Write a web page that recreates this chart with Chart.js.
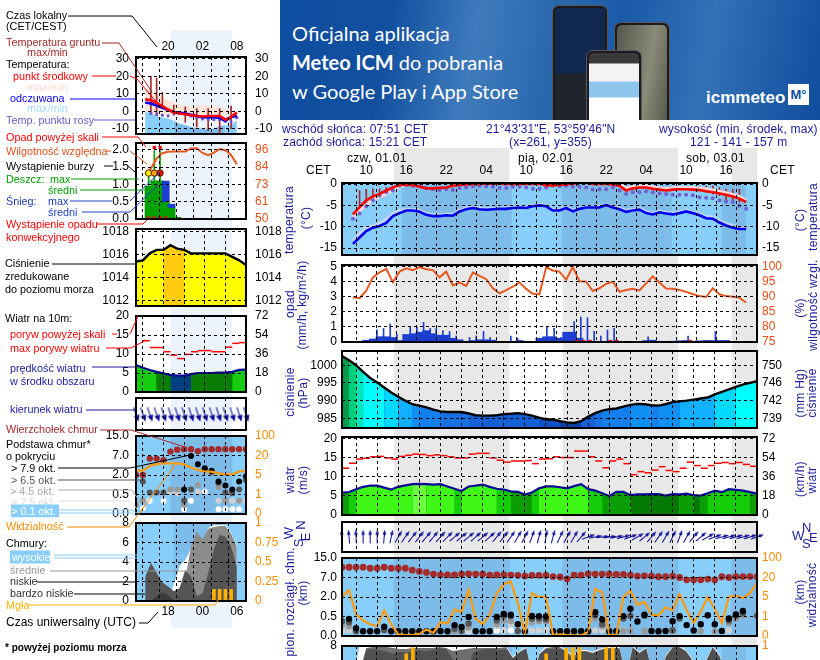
<!DOCTYPE html>
<html lang="pl">
<head>
<meta charset="utf-8">
<title>Meteogram</title>
<script src="https://cdn.jsdelivr.net/npm/chart.js@4.4.1/dist/chart.umd.min.js"></script>
<style>
  html, body { margin: 0; padding: 0; background: #fff; }
  body { position: relative; width: 820px; height: 660px; overflow: hidden; font-family: "Liberation Sans", Arial, sans-serif; }
  canvas { position: absolute; }
  .t { position: absolute; white-space: nowrap; font-size: 10.8px; line-height: 13px; transform: translateY(-50%); }
  .r { position: absolute; white-space: nowrap; font-size: 12px; line-height: 13px; transform: translate(-50%,-50%) rotate(-90deg); color: #1a1a9c; letter-spacing: .3px; }
  #banner { position: absolute; left: 280px; top: 0; width: 540px; height: 120px; overflow: hidden;
    background: linear-gradient(100deg,#0e4ea0 0%,#124f9f 20%,#3f7bbc 36%,#2a68ae 50%,#1a5aa8 62%,#3471b6 78%,#0f4d9e 100%); color: #fff; font-family: Lato, sans-serif; }
  #banner .line { position: absolute; left: 12px; font-size: 20px; line-height: 24px; white-space: nowrap; }
  .phone { position: absolute; background: #1c1c20; border: 1px solid #55585c; border-radius: 7px 7px 0 0; overflow: hidden; }
  .screen { position: absolute; left: 2px; right: 2px; top: 2px; bottom: 0; border-radius: 5px 5px 0 0; }
  #leaders { position: absolute; left: 0; top: 0; }
</style>
</head>
<body>
<div id="banner">
  <div class="line" style="top:21px">Oficjalna aplikacja</div>
  <div class="line" style="top:50px"><b>Meteo ICM</b> do pobrania</div>
  <div class="line" style="top:79px">w Google Play i App Store</div>
  <div class="phone" style="left:272px;top:5px;width:54px;height:120px"><div class="screen" style="background:linear-gradient(#10284e 55%,#20242c 56%)"></div></div>
  <div class="phone" style="left:334px;top:22px;width:54px;height:100px"><div class="screen" style="background:linear-gradient(100deg,#55584e,#8a8a78 60%,#55584e)"></div></div>
  <div class="phone" style="left:306px;top:50px;width:54px;height:72px"><div class="screen" style="background:linear-gradient(#3a3a3a 10px,#f4f4f4 11px,#f4f4f4 28px,#8ec6ee 29px,#8ec6ee 44px,#fff 45px)"></div></div>
  <div class="line" style="left:426px;top:86px;font-size:17px;font-weight:700;font-family:'Liberation Sans'">icmmeteo</div>
  <div class="line" style="left:508px;top:84px;width:21px;height:21px;line-height:21px;background:#fff;color:#0f4d9e;text-align:center;font-size:13px;font-weight:700;font-family:'Liberation Sans'">M°</div>
</div>
<script>
// ---- time axes
const mainHours = 59;
const leftHours = 16;
const mainGrid = [2,5,8,11,14,17,20,23,26,29,32,35,38,41,44,47,50,53,56];
const leftGrid = [1,4,7,10,13,16];
const mainTimeHours = [2,8,14,20,26,32,38,44,50,56];
const mainTimeLabels = ['10','16','22','04','10','16','22','04','10','16'];
const leftTopHours = [4,10,16];
const leftTopLabels = ['20','02','08'];
const leftUtcHours = [4,10,16];
const leftUtcLabels = ['18','00','06'];
const mainNights = [[7.35,23.85],[31.35,47.85],[55.35,59]];
const leftNights = [[5,14]];
const n = null;

// ---- main: temperature
const tempMid = [-7.1,-5.4,-3.8,-2.9,-2.3,-1.5,-0.8,-0.1,-0.2,-0.2,-0.6,-1,-1,-0.9,-0.8,-0.4,-0.2,-0.1,0,0,0.1,0.1,0.1,0,0,0,0,0,0.1,-0.3,-0.3,-0.2,-0.1,0.1,0.3,0.3,0,0,0,-0.1,-0.4,-1.5,-1,-0.8,-0.8,-1.1,-1.3,-1.5,-1.3,-1.2,-1.2,-1.3,-1.4,-1.7,-1.9,-2.2,-2.5,-2.9,-3.4,-4.2];
const tempPale = [-7.7,-6.2,-4.9,-3.7,-3,-2.3,-1.5,-0.6,-0.3,n,n,n,n,n,n,n,n,n,n,n,n,n,n,n,n,n,n,n,n,n,n,n,n,n,n,n,n,n,n,0,-0.1,-0.9,-0.6,-0.4,-0.4,-0.7,-0.9,-1,-0.9,-0.8,-0.8,-0.8,-0.9,-1.1,-1.4,-1.7,-2,-2.4,-2.9,-3.8];
const feels = [-14,-12.5,-11,-10.2,-9.8,-9.1,-7.5,-6.8,-6.2,-6.2,-6.5,-7.2,-7.5,-7.5,-7.3,-7.4,-6.4,-5.9,-5.6,-5.9,-6,-5.9,-5.8,-5.8,-5.6,-5.5,-5.6,-5.2,-5,-5.2,-6.2,-6.2,-5.6,-6.4,-5.8,-5.5,-5.5,-5.5,-4.9,-5.5,-5.9,-6.5,-6.2,-6,-6.8,-7.1,-6.6,-6.9,-7.1,-6.8,-6.4,-6.8,-7.3,-8,-8.1,-9,-9.7,-10.2,-10.5,-10.5];
const feelsPale = [-13.2,-11.6,-10.2,-9.7,-9.2,-8.2,-6.9,-6.2,-5.9,-5.9,-6.2,-6.9,-7.2,-7.2,-7,-7.1,-6.1,-5.6,-5.4,-5.6,-5.8,-5.7,-5.6,-5.6,-5.4,-5.3,-5.4,-5,-4.8,-5,-6,-6,-5.4,-6.1,-5.6,-5.3,-5.3,-5.3,-4.7,-5.3,-5.6,-6.2,-5.9,-5.7,-6.5,-6.8,-6.3,-6.6,-6.8,-6.5,-6.1,-6.5,-7,-7.6,-7.7,-8.6,-9.2,-9.7,-10.2,-10.3];
const dewPoint = [-8.1,-6.9,-5.2,-3.8,-2.7,-1.9,-1.5,-0.4,-0.2,-0.4,-0.5,-1,-1.2,-1.4,-1.2,-1.4,-0.9,-0.8,-0.5,-0.4,-0.5,-0.6,-0.9,-0.9,-0.6,-0.6,-0.8,-1.1,-1.1,-0.8,-0.4,-0.5,-0.4,-0.6,-0.6,-0.8,-1.3,-1.2,-1.2,-0.8,-1.5,-2.3,-1.9,-1.9,-1.7,-1.9,-2.2,-2.3,-2.5,-2.5,-2.5,-2.6,-3.1,-3.2,-3.3,-3.8,-4.1,-4.2,-5.1,-5.8];
const groundHours = [1,2,3,4,5,52,53,54,55,56,57,58];
const groundHigh = [-1.5,-1.2,-1.1,-1.1,-0.8,-0.6,-0.4,-0.4,-0.8,-1.2,-1.2,-1.2];
const groundLow = [-7,-5,-3.8,-2.7,-1.9,-1.6,-1.9,-2.3,-2.7,-3.8,-3.8,-4.2];
const tempTicks = [-15,-10,-5,0];

// ---- main: humidity and rain
const humidity = [89.8,89.5,92,96.4,98.1,99.2,94.8,98.3,99.4,98.8,99.8,99.1,98.8,96.4,98.3,93.7,94.7,93.6,98,96.9,95.8,92.8,91.1,92.2,93.3,94.7,92.6,91,90.8,99.8,98.7,98.3,95.6,99.9,95.1,95,91.9,92.8,94.2,95,91.6,92.2,92.6,92.1,94.4,96.7,94.7,92.7,92.6,92.2,91.6,90.9,90.2,89.9,92.8,90.8,90.2,90,89.7,88.1];
const rainMean = [0,0,0.12,0.2,0.35,0.35,0.3,0.1,0.5,0.55,0.65,0.75,0.55,0.45,0.45,0.25,0.15,0.05,0.1,0.15,0.15,0.12,0,0,0.03,0.1,0.03,0,0.25,0.35,0.35,0.25,0.65,0.65,0.25,0.03,0,0,0,0,0,0.02,0.02,0.02,0.1,0.12,0.05,0,0.05,0.08,0.1,0.05,0.08,0.1,0.1,0.1,0.1,0.02,0,0];
const rainMaxHours = [3.6,4.6,5.6,6.6,8.6,9.6,10.6,11.6,12.5,13.5,14.5,15.5,17.5,18.5,19.6,20.6,23.7,24.7,29.1,30.2,31.2,32.2,33.2,34.2,35.2,36.2,37.2,38.2,39.2,44.3,50.3,54.4];
const rainMax = [0.8,0.9,1.2,0.5,1,1,1.3,0.9,0.9,0.75,0.7,0.4,0.3,0.4,0.7,0.3,0.4,0.25,1,0.9,0.3,0.5,1.35,1.65,1.6,0.7,0.4,0.8,0.9,0.35,0.4,0.7];
const convectiveHours = [33.6,34.6,35.6,38.6,39.6,50.6];
const mmTicks = [0,1,2,3,4,5];
const humidityTicks = [75,80,85,90,95,100];

// ---- main: pressure
const pressure = [1002.6,1001.4,1000,998.1,996.4,995.1,993.7,992.3,991.1,990,989,988.6,988.1,987.5,987,986.8,986.8,986.8,986.4,985.9,985.8,985.8,985.9,986.2,986.3,986.5,986.2,985.8,985.2,984.7,984.7,984.2,983.9,983.7,984.2,985.5,986.5,987.2,987.6,987.8,988.3,988.8,989.1,989,988.7,988.6,989,989.6,989.8,990,990.3,990.6,990.9,991.8,992.5,993.2,993.9,994.5,995,995.5];
const pressureTicks = [985,990,995,1000];
const pressureHgLabels = ['739','742','746','750'];

// ---- main: wind
const windSpeed = [5.9,6.05,6.75,7.4,7.7,7.7,7.2,6.7,7.4,7.8,8.1,8.2,8.1,8,8.1,7.5,6.9,6.3,7.5,7.7,8,7.4,6.9,6.7,6.2,6.1,5.4,5.9,7,7.5,7.5,7.3,7,7.6,8.1,6.8,6.4,5.7,5,6.1,6.1,5.2,5.4,5.4,5.5,5.5,5.1,5.5,5.4,5.6,5.2,5.1,5.7,6.4,6,6.8,6.6,6.4,6,5.6];
const windGust = [12.3,13.6,14.7,14.9,15.3,15.4,15,14.7,15.4,15.7,16,15.9,15.6,15.8,15.6,15.3,15,15,16,16.2,16.2,15,14.4,13.9,14.2,14.2,14.3,13.5,14.7,14.8,15.3,15.1,15.1,16.8,16.8,15.3,14.2,12.4,14.2,14.7,13.5,10.6,11.4,11.1,11.8,12.7,11.7,11.4,12.3,13.9,13,12.3,13,13.6,13.8,13.5,13.8,13.3,12.8,n];
const windTicks = [0,5,10,15,20];
const windKmhLabels = ['0','18','36','54','72'];
const windDir = [-5,-5,-3,0,0,0,5,12,30,35,38,38,40,40,42,45,50,50,50,48,50,48,40,38,35,30,28,20,15,10,15,25,30,30,40,70,80,85,85,80,75,70,60,50,40,35,30,25,20,30,40,50,60,70,75,75,75,75,72,70];

// ---- main: clouds (heights in km)
const heightStops = [0,0.5,2,7,15];
const heightLabels = ['0.0','0.5','2.0','7.0','15.0'];
const visStops = [0,1,5,20,100];
const visLabels = ['0','1','5','20','100'];
const cloudTop = [11.2,11.2,11.2,11.2,10.8,10.8,11.2,10.8,10.8,10.8,10,9.5,9.1,8.4,8.1,8.1,8.1,8.4,8.5,8.4,8.4,8,8.1,8.1,8,7.9,7.6,7.9,7.9,7.9,7.4,7.2,6.65,8,8,8.5,8.4,8.4,8.4,8.3,8.3,8,7.6,7.7,7.6,7.3,7.3,7.6,7,6.4,6.4,6.4,6.6,6.4,7.3,7,7.4,7.4,7.4,7.3];
const visibility = [5,10.4,1.5,0.8,0.6,0.5,2.2,0.59,0.09,0.05,0.05,0.12,0.33,0.16,0.72,0.64,2.4,1.9,10.4,0.9,0.6,1.3,7.9,14.8,16.9,3.7,0.16,7.9,5,5.2,0.05,0.08,0.05,0.03,0.03,0.2,11,8.6,0.05,0.05,5,10,3.4,4,1.4,1.2,2.9,2.3,7.1,2.3,0.67,2,5.1,2.6,0.67,5,5.8,4.8,7.9,15.5];
const base79 = [n,0.44,0.2,0.12,0.12,0.12,0.24,0.12,0.12,0.12,0.12,0.12,0.12,0.12,0.13,0.12,0.28,0.23,0.49,0.12,0.12,0.12,0.49,0.7,0.63,0.3,0.12,0.54,0.53,0.5,0.12,0.12,0.12,0.12,0.12,0.12,0.83,0.42,0.12,0.12,0.53,1.1,0.37,0.63,0.13,0.12,0.13,0.38,0.53,0.28,0.14,0.3,0.6,0.3,0.13,0.45,0.65,0.92,n,n];
const base65 = [0.38,0.35,0.12,n,n,n,0.15,n,n,n,n,n,n,n,n,n,0.18,0.13,0.32,n,n,n,0.4,0.55,0.52,0.13,n,0.45,0.45,0.42,n,n,n,n,n,n,0.6,0.3,n,n,0.45,0.55,n,0.55,n,n,n,0.15,0.45,n,n,n,n,n,n,0.4,0.55,0.75,n,0.55];
const base45 = [0.28,0.25,n,n,n,n,n,n,n,n,n,n,n,n,n,n,0.13,n,0.22,n,n,n,0.3,0.4,0.38,n,n,0.35,0.38,0.38,n,n,n,n,n,n,0.45,0.25,n,n,0.13,0.13,n,0.12,n,n,n,0.13,n,n,n,0.12,n,0.12,n,0.33,0.45,0.6,n,n];
const base25 = [0.14,0.14,n,n,n,n,n,n,n,n,n,n,n,n,n,n,n,n,0.14,n,n,n,0.25,0.14,0.3,0.14,n,0.14,0.14,0.14,n,n,n,n,n,n,0.14,0.14,n,n,0.14,n,n,n,n,n,n,n,n,n,n,n,n,n,n,0.14,n,n,n,n];
const base01 = [n,n,n,n,n,n,n,n,n,n,n,n,n,n,n,n,n,n,0.13,n,n,n,0.14,0.14,0.14,n,n,n,n,n,n,n,n,n,n,n,n,n,n,n,n,n,n,n,n,n,n,n,n,n,n,n,n,n,n,n,n,n,n,n];

// ---- main: cloud cover, only the top of this panel fits the page
const coverTicks = [0,2,4,6,8];
const coverFracLabels = ['0','0.25','0.5','0.75','1'];
const coverLow = [4,5,7.6,7.7,7.6,7.4,7.2,7.4,7.3,7.5,7.6,7.5,7.6,7.8,7.7,6.6,5,4.8,7.3,7.6,7.7,7.7,7.6,7.7,6.7,7.3,7.7,4.6,7.1,7.7,7.7,7.7,7.4,6.5,7.4,7.4,7.2,7.5,7.7,7.7,7.7,4.8,7.8,7.2,7.7,5,4.8,6.9,7.8,7.8,7.4,6.4,4.8,6.4,7.8,6.9,4.8,4.5,4.5,4.5];
const coverMid = [4.2,5.3,7.8,7.9,7.9,7.9,7.8,7.7,7.7,7.8,7.8,7.8,7.8,7.9,7.8,7.5,7.6,7.7,7.8,7.8,7.8,7.8,7.8,7.9,6.8,7.4,7.8,4.7,7.2,7.8,7.9,7.9,7.5,6.9,7.5,7.5,7.3,7.6,7.8,7.8,7.8,4.9,7.9,7.3,7.8,5.1,4.9,7,7.9,7.9,7.5,6.5,4.9,6.5,7.9,7,4.9,4.6,4.6,4.6];
const coverHigh = [4.6,8,8,8,8,8,8,8,7.9,7.9,7.9,8,8,8,8,8,7.9,7.9,8,8,8,8,8,8,6.9,7.5,7.9,4.8,7.3,8,8,8,7.6,7,7.6,7.6,7.4,7.7,7.9,7.9,7.9,5,8,7.4,7.9,5.2,5,7.1,8,8,7.6,6.6,5,6.6,8,7.1,5,4.7,4.7,4.7];
const fogHours = [8,9,10,29,32,33,34,38,39];
const fogValues = [0.9,0.98,0.65,0.9,0.97,0.98,0.98,0.98,0.98];

// ---- left: temperature
const lTempMid = [6.9,6.3,4.8,2.9,1,-0.6,-1.3,-1.7,-2.3,-2.7,-3,-2.7,-2.7,-2.7,-4.8,-3.2,-0.8];
const lTempMax = [13.6,11.8,9.6,7.9,6.3,5,3.8,3.2,2.9,3.1,3.5,3.1,2.9,2.3,1.5,0.4,0.2];
const lFeels = [5,4.4,3.3,2,0.8,-0.4,-0.8,-1.3,-2,-2.7,-3.4,-3.4,-3.4,-3.8,-5.6,-3.3,-2.7];
const lFeelsMax = [-0.4,-1,-2.9,-3.5,-4.2,-5.4,-7.1,-8,-9,-9.6,-10,-10,-10,-8.5,-8,-8,-5.2];
const lDewPoint = [n,-1.3,-1.9,-2.3,-2.7,-1,-1.3,-1.7,-2.7,-3.8,-4.4,-4.6,-4.8,-4.8,-5.6,-6.2,-3.7];
const lGroundHours = [1,2,3,5,7,9,11,13,15];
const lGroundHigh = [20,19,10.8,3.5,2.5,1.5,1.5,1.5,2.9];
const lGroundLow = [-1.3,-1.3,2.9,-2.3,-6.3,-9,-11,-13,-10];
const lTempTicks = [-10,0,10,20,30];

// ---- left: humidity and precipitation
const lHumidity = [79.9,83.6,90.3,93.8,94.7,94.9,94.9,94.9,96.9,97.1,94,92.5,94.2,96.5,95.8,92.7,86.5];
const lRainHours = [0.6,1.6,2.6,3.6,4.6,5.6];
const lRainMean = [0.95,1.1,1.1,0.5,0.33,0.05];
const lSnowHours = [3.6,4.6];
const lSnowLow = [0.5,0.33];
const lSnowHigh = [1.1,0.43];
const lRainMaxHours = [0.6,1.6,2.6];
const lRainMaxLow = [0.95,1.1,1.1];
const lRainMaxHigh = [1.35,1.98,1.98];
const lOverScale = [2.07,2.07];
const lOverHours = [1.6,2.6];
const lThunderHours = [0.6,1.6,2.6];
const lThunderValues = [1.33,1.33,1.33];
const lConvectiveHours = [0.6,1.6,2.6,3.6];
const lMmTicks = [0,0.5,1,1.5,2];
const lMmLabels = ['0.0','0.5','1.0','1.5','2.0'];
const lHumTicks = [50,61.5,73,84.5,96];
const lHumLabels = ['50','61','73','84','96'];

// ---- left: pressure and wind
const lPressure = [1015.4,1015.5,1016.1,1016.4,1016.4,1016.8,1016.5,1016.4,1016.1,1016.1,1016.1,1016.1,1016.1,1016.1,1015.8,1015.5,1015.1];
const lPressureTicks = [1012,1014,1016,1018];
const lWind = [7.1,6.4,5.8,5.3,4.9,4.5,4.3,4.3,4.7,5,5,5,5.1,5.1,5.3,5.8,5.9];
const lGust = [n,13.5,11.7,11.7,10.6,9.7,8.8,9.9,10.6,10.9,10.9,10.6,10.6,11.8,12.8,13];
const lWindDir = [160,160,160,160,162,162,162,162,162,162,162,162,162,162,162,162,162];

// ---- left: clouds
const lCloudTop = [2,2,6.2,6.2,5.8,8.6,9.4,9.6,9.6,8.8,9.6,9.6,9.6,9.6,9.6,9.6,9.6];
const lBase79 = [n,n,n,n,n,n,n,0.89,6.9,4.75,3.75,3.1,1.5,1.2,0.88,1.5,1.9];
const lBase65 = [n,1.5,0.66,0.66,0.66,n,n,0.34,0.89,n,3.4,2.7,1.4,0.66,0.6,0.89,1.6];
const lBase45 = [0.24,0.34,n,n,n,0.89,0.89,0.23,n,1.23,n,n,1.05,0.34,0.72,0.34,n];
const lBase25 = [0.23,n,n,n,n,0.72,0.59,n,n,0.72,n,n,0.34,0.34,0.34,0.34,0.34];
const lBase01 = [n,0.15,0.34,n,0.34,n,n,0.12,0.34,n,0.72,n,0.12,0.12,0.12,0.12,n];
const lVisibility = [8.3,8.3,11.9,13.4,14,14,14,13.2,10.7,8.9,7.6,7.6,6.3,5.5,5.6,7.6,8.4];
const lCoverHigh = [0,0,0,0,0,1.7,3.6,4.2,5.4,5.9,6,7.5,7.8,7.8,7.8,7,5.7];
const lCoverMid = [0,0,0,0,0,0,0,2.2,5.6,7.1,6.3,7.4,7.6,7.7,7.7,6.9,5.6];
const lCoverLow = [2.5,3.9,2.9,1.9,1.5,1,1.3,3.2,2.5,0.5,0.8,2.9,5.3,6.8,6.6,5.6,3.5];
const lCoverVeryLow = [0,0,0.5,0.9,0.6,0,0,0,0,0,0,0,0,0,0,0,0];
const lFogHours = [12,13,14,15];
const lFogValues = [0.15,0.15,0.15,0.15];

// ---- text next to the panels: text, x, y, colour
const NAVY = '#1a1a9c';
const legendLabels = [
  ['Czas lokalny',6,15,'#000'],['(CET/CEST)',6,26,'#000'],['Temperatura gruntu',6,42,'#a52a2a'],['max/min',27,52,'#a52a2a'],
  ['Temperatura:',6,64,'#000'],['punkt środkowy',13,76,'#f00'],['max/min',27,87,'#fbdccf'],['odczuwana',10,98,'#00f'],
  ['max/min',27,108,'#a8daf8'],['Temp. punktu rosy',6,120,'#6a5acd'],['Opad powyżej skali',6,137,'#f00'],['Wilgotność względna',6,151,'#e0501a'],
  ['Wystąpienie burzy',6,166,'#000'],['Deszcz:',6,179,'#00a000'],['max',50,179,'#00a000'],['średni',48,190,'#00a000'],
  ['Śnieg:',6,201,'#2040c0'],['max',48,201,'#2040c0'],['średni',48,212,'#2040c0'],['Wystąpienie opadu',6,224,'#f00'],['konwekcyjnego',6,237,'#f00'],
  ['Ciśnienie',5,263,'#000'],['zredukowane',5,276,'#000'],['do poziomu morza',5,289,'#000'],['Wiatr na 10m:',5,318,'#000'],
  ['poryw powyżej skali',10,334,'#f00'],['max porywy wiatru',10,348,'#f00'],['prędkość wiatru',10,368,NAVY],['w środku obszaru',10,381,NAVY],
  ['kierunek wiatru',10,409,NAVY],['Wierzchołek chmur',6,429,'#a52a2a'],['Podstawa chmur*',6,444,'#000'],['o pokryciu',6,456,'#000'],
  ['> 7.9 okt.',11,468,'#000'],['> 6.5 okt.',11,480,'#555'],['> 4.5 okt.',10,491,'#aaa'],['> 2.5 okt.',11,502,'#ddd'],
  ['Widzialność',6,526,'#ff8c00'],['Chmury:',6,543,'#000'],['średnie',10,570,'#999'],['niskie',10,581,'#333'],['bardzo niskie',10,593,'#333'],
  ['Mgła',6,605,'#ffb000']
];
const headerLabels = [
  ['wschód słońca: 07:51 CET',282,129],['zachód słońca: 15:21 CET',283,142],['21°43\'31"E, 53°59\'46"N',486,129],['(x=261, y=355)',509,142],
  ['wysokość (min, środek, max)',659,129],['121 - 141 - 157 m',690,142]
];
const dayLabels = [['czw, 01.01',347,158],['pią, 02.01',518,158],['sob, 03.01',686,158],['CET',306,170],['CET',770,170]];
const sideLabels = [
  ['temperatura',289,220],['(°C)',306,218],['opad',290,304],['(mm/h, kg/m²/h)',302,305],['ciśnienie',290,392],['(hPa)',303,393],
  ['wiatr',290,480],['(m/s)',303,480],['e  pion. rozciągł. chm.',290,607],['(km)',303,593],
  ['temperatura',813,217],['(°C)',800,220],['wilgotność wzgl.',813,305],['(%)',800,308],['ciśnienie',812,393],['(mm Hg)',800,393],
  ['wiatr',812,480],['(km/h)',800,479],['widzialność',812,595],['(km)',800,592]
];
const compassLeft = [['W',288,533],['N',300,525],['E',305,537],['S',298,543]];
const compassRight = [['W',797,535],['N',807,527],['E',814,537],['S',807,543]];

// leader lines: colour, points
const leaders = [
  ['#000','68,16 132,16 157,47'],['#a52a2a','102,43 119,43 152,92'],['#f00','92,76 116,76'],['#f00','130,76 137,79 158,104'],
  ['#00f','70,99 135,99'],['#6a5acd','94,120 135,120'],['#f00','102,137 138,137 146,147'],['#e0501a','106,151 111,151'],['#e0501a','130,151 147,164'],
  ['#000','104,166 113,166'],['#000','128,166 135,172'],['#00a000','71,179 139,179'],['#00a000','80,190 146,190'],['#2040c0','70,201 112,201'],
  ['#2040c0','130,201 160,172'],['#2040c0','82,212 130,212 158,185'],['#f00','97,224 143,224 147,220'],['#000','52,264 135,264'],
  ['#f00','112,334 117,334'],['#f00','130,334 138,316'],['#f00','106,348 131,348 146,340'],[NAVY,'92,367 135,367'],[NAVY,'86,410 135,410'],
  ['#a52a2a','100,430 131,430 185,447'],['#000','58,468 130,468 190,455'],['#555','58,480 143,480'],['#aaa','58,490 132,490 140,502'],
  ['#ddd','58,501 130,501 138,510'],['#87cefa','58,510 132,510 137,513'],['#87cefa','58,513 132,513 136,516'],['#ff8c00','67,527 129,527 175,465'],
  ['#87cefa','54,555 186,555'],['#87cefa','54,558 186,558'],['#999','50,571 192,571'],['#000','37,582 135,582'],['#000','74,594 145,594'],
  ['#ffb000','27,605 215,605 218,600'],['#000','139,623 148,623 158,612']
];

// ---- helpers
const FONT = 'Liberation Sans';
const DAY_BLUE = '#87cefa';
const NIGHT_BLUE = '#7dbbe9';
const xy = (arr, off = 0) => arr.map((y, i) => ({ x: i + off, y }));
const pairs = (xs, ys) => xs.map((x, i) => ({ x, y: ys[i] }));
const ranges = (xs, lo, hi) => xs.map((x, i) => ({ x, y: [lo[i], hi[i]] }));

// piecewise position of a value between the uneven axis stops
function stopIndex(v, stops) {
  if (v === null) return null;
  for (let i = 1; i < stops.length; i++) {
    if (v <= stops[i]) return i - 1 + (v - stops[i - 1]) / (stops[i] - stops[i - 1]);
  }
  return stops.length - 1;
}

function line(data, color, width, extra = {}) {
  return { type: 'line', data, borderColor: color, borderWidth: width, pointRadius: 0, tension: 0, fill: false, ...extra };
}
function dots(data, color, radius, extra = {}) {
  return { type: 'line', data, showLine: false, pointRadius: radius, pointBackgroundColor: color, pointBorderColor: color, pointBorderWidth: 0, ...extra };
}
function area(data, color, extra = {}) {
  return { type: 'line', data, borderWidth: 0, borderColor: 'transparent', backgroundColor: color, pointRadius: 0, tension: 0, fill: 'start', ...extra };
}
function bars(data, color, thick, extra = {}) {
  return { type: 'bar', data, backgroundColor: color, barThickness: thick, grouped: false, ...extra };
}
function areaBySegment(data, colorOf) {
  return area(data, colorOf(data[0].y), { segment: { backgroundColor: c => colorOf(Math.max(c.p0.parsed.y, c.p1.parsed.y)) } });
}

function yScale(spec, pos, width, pad) {
  return {
    type: 'linear', position: pos, min: spec.min, max: spec.max,
    grid: pos === 'left' ? { color: '#000', lineWidth: 1, z: 1, drawTicks: false } : { display: false, drawTicks: false },
    border: { display: false, dash: [3, 3] },
    ticks: {
      autoSkip: false, padding: pad, color: spec.color || '#000', font: { family: FONT, size: 12 },
      callback: (v, i) => spec.labels ? spec.labels[i] : String(v)
    },
    afterBuildTicks: s => { s.ticks = spec.ticks.map(value => ({ value })); },
    afterFit: s => { s.width = width; s.paddingTop = 0; s.paddingBottom = 0; }
  };
}

function panel(cfg) {
  const [l, t, r, b] = cfg.rect;
  const sideW = cfg.axisW === undefined ? 44 : cfg.axisW;
  const pad = cfg.pad === undefined ? 8 : cfg.pad;
  const topH = cfg.topH || 0, botH = cfg.botH || 0;
  const canvas = document.createElement('canvas');
  canvas.width = r - l + 2 * sideW;
  canvas.height = b - t + 2 * pad + topH + botH;
  canvas.style.left = (l - sideW) + 'px';
  canvas.style.top = (t - pad - topH) + 'px';
  document.body.appendChild(canvas);

  const labels = cfg.xLabels || { hours: [], labels: [] };
  const scales = {
    x: {
      type: 'linear', min: 0, max: cfg.xMax, position: cfg.topH ? 'top' : 'bottom',
      grid: { color: '#000', lineWidth: 1, z: 1, drawTicks: false, display: cfg.grid !== false },
      border: { display: false, dash: [3, 3] },
      ticks: {
        display: !!cfg.xLabels, autoSkip: false, maxRotation: 0, padding: cfg.xPad || 3, color: '#000', font: { family: FONT, size: 12 },
        callback: v => { const i = labels.hours.indexOf(v); return i < 0 ? '' : labels.labels[i]; }
      },
      afterBuildTicks: s => { s.ticks = (cfg.xGrid || []).map(value => ({ value })); },
      afterFit: s => { s.height = topH || botH; s.paddingLeft = 0; s.paddingRight = 0; }
    }
  };
  if (cfg.y) scales.y = yScale(cfg.y, 'left', sideW, cfg.tickPad || 5);
  else scales.y = { display: false, min: 0, max: 1 };
  if (cfg.y2) scales.y2 = yScale(cfg.y2, 'right', sideW, cfg.tickPad2 || cfg.tickPad || 5);
  const sidePad = cfg.y ? 0 : sideW;

  const decor = {
    id: 'decor',
    beforeDatasetsDraw(chart) {
      if (!cfg.sky) return;
      const a = chart.chartArea, c = chart.ctx, sx = chart.scales.x;
      c.save();
      c.fillStyle = DAY_BLUE;
      c.fillRect(a.left, a.top, a.width, a.height);
      c.fillStyle = NIGHT_BLUE;
      cfg.nights.forEach(([p, q]) => {
        const x0 = sx.getPixelForValue(p), x1 = sx.getPixelForValue(q);
        c.fillRect(x0, a.top, x1 - x0, a.height);
      });
      c.restore();
    },
    afterDraw(chart) {
      if (cfg.frame === false) return;
      const a = chart.chartArea, c = chart.ctx;
      c.save();
      c.strokeStyle = '#000';
      c.lineWidth = 2;
      c.strokeRect(a.left, a.top, a.width, a.height);
      c.restore();
    }
  };

  return new Chart(canvas, {
    data: { datasets: cfg.datasets },
    options: {
      responsive: false, animation: false, events: [], devicePixelRatio: 1,
      layout: { autoPadding: false, padding: { top: pad, bottom: pad, left: sidePad, right: sidePad } },
      plugins: { legend: { display: false }, tooltip: { enabled: false } },
      scales
    },
    plugins: [decor]
  });
}

// night stripes behind all panels
function nightBands(rect, xMax, nights, color) {
  const pts = [];
  nights.forEach(([p, q]) => { pts.push({ x: p, y: 1 }, { x: q, y: 1 }, { x: q, y: null }); });
  panel({ rect, xMax, axisW: 0, pad: 0, grid: false, frame: false, datasets: [area(pts, color, { fill: 'origin' })] });
}

function arrowImage(head, size) {
  const c = document.createElement('canvas');
  c.width = c.height = size;
  const g = c.getContext('2d');
  const m = size / 2;
  g.strokeStyle = g.fillStyle = '#0a0a96';
  g.lineWidth = 1;
  g.beginPath(); g.moveTo(m, size - 1); g.lineTo(m, 3); g.stroke();
  g.beginPath(); g.moveTo(m, 0); g.lineTo(m + head, 3.5 + head); g.lineTo(m - head, 3.5 + head); g.closePath(); g.fill();
  return c;
}

const pressureColor = p => p >= 1002 ? '#009a4c' : p >= 1000.5 ? '#00d07a' : p >= 998.5 ? '#00e8b8' : p >= 994 ? '#00ffff' : p >= 992 ? '#00d8ff' : p >= 990 ? '#10b0ff' : p >= 989 ? '#1090f4' : p >= 987.5 ? '#1480ec' : p >= 986.6 ? '#1670e0' : p >= 985.5 ? '#1460d4' : p >= 984.5 ? '#1050c4' : '#0c40a8';
const windColor = v => v >= 8.15 ? '#6cff40' : v >= 7.2 ? '#40f818' : v >= 6.3 ? '#14cc08' : v >= 5.6 ? '#0a9e04' : '#047a02';
const lWindColor = v => v >= 5.5 ? '#16cc10' : v >= 4.75 ? '#0a7d04' : '#004080';
const lPressColor = p => p >= 1016.45 ? '#ffcc10' : '#ffff00';
const lNight = t => t >= leftNights[0][0] && t < leftNights[0][1];

// ---- background stripes
nightBands([342,148,757,660], mainHours, mainNights, '#e8e8e8');
nightBands([135.5,30,245.5,628], leftHours, leftNights, '#ecf3fd');

// ---- main panels
panel({
  rect: [342,183,757,255], xMax: mainHours, xGrid: mainGrid, topH: 22, xPad: 5,
  xLabels: { hours: mainTimeHours, labels: mainTimeLabels }, sky: true, nights: mainNights,
  y: { min: -16.6, max: 0.25, ticks: tempTicks, labels: tempTicks.map(String) },
  y2: { min: -16.6, max: 0.25, ticks: tempTicks, labels: tempTicks.map(String) },
  datasets: [
    line(xy(tempMid), '#f00', 2.6),
    line(xy(feels), '#0000f0', 2.6),
    dots(xy(dewPoint), '#7060d0', 2),
    line(xy(tempPale), '#f8d8d8', 3),
    line(xy(feelsPale), '#c0d4f4', 3),
    bars(ranges(groundHours, groundLow, groundHigh), '#a52a2a', 1)
  ]
});

panel({
  rect: [342,265,757,342], xMax: mainHours, xGrid: mainGrid,
  y: { min: 0, max: 5.1, ticks: mmTicks, labels: mmTicks.map(String) },
  y2: { min: 75, max: 100.5, ticks: humidityTicks, labels: humidityTicks.map(String), color: '#e8501a' },
  datasets: [
    dots(pairs(convectiveHours, convectiveHours.map(() => 0.02)), '#e01010', 2.6, { pointStyle: 'rect' }),
    line(xy(humidity), '#e8581e', 2, { yAxisID: 'y2' }),
    bars(xy(rainMean), '#1c3fd0', 7.1),
    bars(pairs(rainMaxHours, rainMax), '#1c3fd0', 1)
  ]
});

panel({
  rect: [342,351,757,428], xMax: mainHours, xGrid: mainGrid,
  y: { min: 982.3, max: 1004, ticks: pressureTicks, labels: pressureTicks.map(String) },
  y2: { min: 982.3, max: 1004, ticks: pressureTicks, labels: pressureHgLabels },
  datasets: [
    line(xy(pressure), '#000', 2.4),
    areaBySegment(xy(pressure), pressureColor),
    area(xy(pressure), '#1480ec')
  ]
});

panel({
  rect: [342,437,757,515], xMax: mainHours, xGrid: mainGrid,
  y: { min: 0, max: 20.5, ticks: windTicks, labels: windTicks.map(String) },
  y2: { min: 0, max: 20.5, ticks: windTicks, labels: windKmhLabels },
  datasets: [
    dots(xy(windGust, 0.5), '#f00', 3.5, { pointStyle: 'line', pointBorderWidth: 1.5 }),
    line(xy(windSpeed), '#0a0a96', 2.2),
    areaBySegment(xy(windSpeed), windColor),
    area(xy(windSpeed), '#14cc08')
  ]
});

const arrowThin = arrowImage(1.8, 15);
const arrowBold = arrowImage(3, 16);
panel({
  rect: [342,522,757,552], xMax: mainHours, xGrid: mainGrid,
  datasets: [{
    type: 'line', showLine: false, clip: false, data: xy(windDir.map(() => 0.5)),
    pointStyle: arrowThin, pointRotation: windDir
  }]
});

const mainCloudAxis = {
  y: { min: 0, max: 4, ticks: [0,1,2,3,4], labels: heightLabels },
  y2: { min: 0, max: 4, ticks: [0,1,2,3,4], labels: visLabels, color: '#ff8c00' }
};
const baseDots = (arr, color, r) => dots(xy(arr.map(v => stopIndex(v, heightStops))), color, r);
panel({
  rect: [342,558,757,636], xMax: mainHours, xGrid: mainGrid, sky: true, nights: mainNights, ...mainCloudAxis,
  datasets: [
    line(xy(visibility.map(v => stopIndex(v, visStops))), '#ff9a0a', 2.2),
    baseDots(base79, '#000', 3.2),
    baseDots(base65, '#555', 3.2),
    baseDots(base45, '#999', 3.2),
    baseDots(base25, '#d0d0d0', 3.2),
    baseDots(base01, '#fff', 3.2),
    baseDots(cloudTop, '#a52a2a', 3.4)
  ]
});

panel({
  rect: [342,646,757,724], xMax: mainHours, xGrid: mainGrid, sky: true, nights: mainNights,
  y: { min: 0, max: 8, ticks: coverTicks, labels: coverTicks.map(String) },
  y2: { min: 0, max: 1, ticks: [0,0.25,0.5,0.75,1], labels: coverFracLabels, color: '#ff8c00' },
  datasets: [
    bars(pairs(fogHours, fogValues), '#ffb000', 3, { yAxisID: 'y2' }),
    area(xy(coverLow), '#505050'),
    area(xy(coverMid), '#6e6e6e'),
    area(xy(coverHigh), '#ffffff')
  ]
});

// ---- left panels
panel({
  rect: [135.5,57,245.5,134], xMax: leftHours, xGrid: leftGrid, topH: 20, xPad: 3, tickPad: 7, tickPad2: 9,
  xLabels: { hours: leftTopHours, labels: leftTopLabels },
  y: { min: -13, max: 31, ticks: lTempTicks, labels: lTempTicks.map(String) },
  y2: { min: -13, max: 31, ticks: lTempTicks, labels: lTempTicks.map(String) },
  datasets: [
    line(xy(lTempMid), '#f00', 2.6),
    line(xy(lFeels), '#0000f0', 2.6),
    dots(xy(lDewPoint), '#6a5acd', 2, { pointStyle: 'rect' }),
    bars(ranges(lGroundHours, lGroundLow, lGroundHigh), '#a52a2a', 1),
    area(xy(lFeelsMax), DAY_BLUE, { fill: 'start', segment: { backgroundColor: c => lNight(c.p0.parsed.x) ? NIGHT_BLUE : DAY_BLUE } }),
    area(xy(lTempMax), '#fde4d8', { fill: { value: -2 } })
  ]
});

panel({
  rect: [135.5,143.3,245.5,220], xMax: leftHours, xGrid: leftGrid, tickPad: 7, tickPad2: 9,
  y: { min: 0, max: 2.2, ticks: lMmTicks, labels: lMmLabels },
  y2: { min: 50, max: 100.6, ticks: lHumTicks, labels: lHumLabels, color: '#e8501a' },
  datasets: [
    dots(pairs(lConvectiveHours, lConvectiveHours.map(() => 0.02)), '#e01010', 2.6, { pointStyle: 'rect' }),
    dots(pairs(lOverHours, lOverScale), '#e01010', 2.4, { pointStyle: 'rect', clip: false }),
    dots(pairs(lThunderHours, lThunderValues), ['#ffee00','#ffa000','#f01010'], 3.2, { pointBorderColor: '#552200', pointBorderWidth: 1 }),
    line(xy(lHumidity), '#e8581e', 2, { yAxisID: 'y2' }),
    bars(ranges(lRainMaxHours, lRainMaxLow, lRainMaxHigh), '#00a000', 1),
    bars(ranges(lSnowHours, lSnowLow, lSnowHigh), '#1c3fd0', 7),
    bars(pairs(lRainHours, lRainMean), '#00a000', 7.2)
  ]
});

panel({
  rect: [135.5,229,245.5,306.7], xMax: leftHours, xGrid: leftGrid, tickPad: 7, tickPad2: 9,
  y: { min: 1011.56, max: 1018.2, ticks: lPressureTicks, labels: lPressureTicks.map(String) },
  y2: { min: 1011.56, max: 1018.2, ticks: lPressureTicks, labels: lPressureTicks.map(String) },
  datasets: [
    line(xy(lPressure), '#000', 2.4),
    areaBySegment(xy(lPressure), lPressColor),
    area(xy(lPressure), '#ffff00')
  ]
});

panel({
  rect: [135.5,315.7,245.5,392], xMax: leftHours, xGrid: leftGrid, tickPad: 7, tickPad2: 9,
  y: { min: 0, max: 20, ticks: windTicks, labels: windTicks.map(String) },
  y2: { min: 0, max: 20, ticks: windTicks, labels: windKmhLabels },
  datasets: [
    dots(xy(lGust, 0.5), '#f00', 3.5, { pointStyle: 'line', pointBorderWidth: 1.5 }),
    line(xy(lWind), '#0a0a96', 2.2),
    areaBySegment(xy(lWind), lWindColor),
    area(xy(lWind), '#0a7d04')
  ]
});

panel({
  rect: [135.5,398,245.5,430], xMax: leftHours, xGrid: leftGrid,
  datasets: [{
    type: 'line', showLine: false, clip: false, data: xy(lWindDir.map(() => 0.5)),
    pointStyle: arrowBold, pointRotation: lWindDir
  }]
});

panel({
  rect: [135.5,436,245.5,514], xMax: leftHours, xGrid: leftGrid, sky: true, nights: leftNights, tickPad: 7, tickPad2: 9,
  y: { min: 0, max: 4, ticks: [0,1,2,3,4], labels: heightLabels },
  y2: { min: 0, max: 4, ticks: [0,1,2,3,4], labels: visLabels, color: '#ff8c00' },
  datasets: [
    line(xy(lVisibility.map(v => stopIndex(v, visStops))), '#ff9a0a', 2.2),
    baseDots(lBase79, '#000', 3),
    baseDots(lBase65, '#555', 3),
    baseDots(lBase45, '#999', 3),
    baseDots(lBase25, '#d0d0d0', 3),
    baseDots(lBase01, '#fff', 3),
    baseDots(lCloudTop, '#a52a2a', 3.2)
  ]
});

panel({
  rect: [135.5,523,245.5,601], xMax: leftHours, xGrid: leftGrid, sky: true, nights: leftNights, tickPad: 7, tickPad2: 9, botH: 18, xPad: 3,
  xLabels: { hours: leftUtcHours, labels: leftUtcLabels },
  y: { min: 0, max: 8, ticks: coverTicks, labels: coverTicks.map(String) },
  y2: { min: 0, max: 1, ticks: [0,0.25,0.5,0.75,1], labels: coverFracLabels, color: '#ff8c00' },
  datasets: [
    bars(pairs(lFogHours, lFogValues), '#ffb000', 3, { yAxisID: 'y2' }),
    area(xy(lCoverVeryLow), '#3a3a3a'),
    area(xy(lCoverLow), '#555555'),
    area(xy(lCoverMid), '#8c8c8c'),
    area(xy(lCoverHigh), '#ffffff')
  ]
});

// ---- text and leader lines
function addText(text, x, y, color, css = '') {
  const d = document.createElement('div');
  d.className = 't';
  d.textContent = text;
  d.style.cssText = `left:${x}px;top:${y}px;color:${color};${css}`;
  document.body.appendChild(d);
  return d;
}
function addRotated(text, x, y, css = '') {
  const d = document.createElement('div');
  d.className = 'r';
  d.textContent = text;
  d.style.cssText = `left:${x}px;top:${y}px;${css}`;
  document.body.appendChild(d);
}

const svgNS = 'http://www.w3.org/2000/svg';
const svg = document.createElementNS(svgNS, 'svg');
svg.id = 'leaders';
svg.setAttribute('width', 820);
svg.setAttribute('height', 660);
leaders.forEach(([color, points]) => {
  const p = document.createElementNS(svgNS, 'polyline');
  p.setAttribute('points', points);
  p.setAttribute('fill', 'none');
  p.setAttribute('stroke', color);
  p.setAttribute('stroke-width', 1);
  svg.appendChild(p);
});
document.body.appendChild(svg);

legendLabels.forEach(([s, x, y, c]) => addText(s, x, y, c));
addText('> 0.1 okt.', 11, 511, '#fff', 'background:#87cefa;padding-right:3px');
addText('wysokie', 10, 557, '#fff', 'background:#87cefa;padding:0 0 0 2px');
addText('Czas uniwersalny (UTC)', 6, 622, '#000', 'font-size:12px');
addText('* powyżej poziomu morza', 5, 647, '#000', 'font-size:10px;font-weight:bold');
headerLabels.forEach(([s, x, y]) => addText(s, x, y, NAVY, 'font-size:12px;letter-spacing:.15px'));
dayLabels.forEach(([s, x, y]) => addText(s, x, y, '#000', 'font-size:12px;letter-spacing:.3px'));
sideLabels.forEach(([s, x, y]) => addRotated(s, x, y));
compassLeft.forEach(([s, x, y]) => addRotated(s, x, y, 'font-size:13px;letter-spacing:0'));
compassRight.forEach(([s, x, y]) => addText(s, x - 5, y, NAVY, 'font-size:13px'));
</script>
</body>
</html>
